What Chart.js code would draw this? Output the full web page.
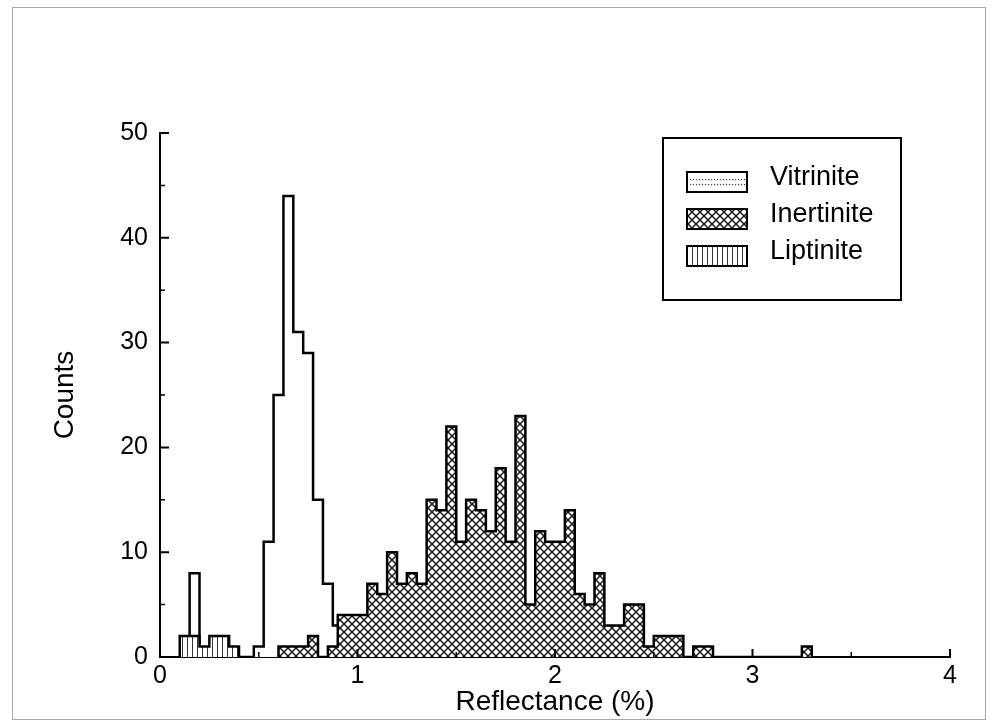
<!DOCTYPE html>
<html>
<head>
<meta charset="utf-8">
<title>Reflectance histogram</title>
<script src="https://cdn.jsdelivr.net/npm/chart.js@4.4.0/dist/chart.umd.min.js"></script>
<style>
  html, body { margin: 0; padding: 0; background: #fff; }
  canvas { display: block; }
</style>
</head>
<body>
<canvas id="myChart" width="995" height="724"></canvas>
<script>
// histogram bins: left edge of each bin, bin width 0.05 %
const binWidth = 0.05;

const vitriniteBins = [0.15, 0.475, 0.525, 0.575, 0.625, 0.675, 0.725, 0.775, 0.825, 0.875];
const vitriniteCounts = [8, 1, 11, 25, 44, 31, 29, 15, 7, 3];

const inertiniteBins = [0.60, 0.65, 0.70, 0.75, 0.80, 0.85, 0.90, 0.95, 1.00, 1.05,
    1.10, 1.15, 1.20, 1.25, 1.30, 1.35, 1.40, 1.45, 1.50, 1.55,
    1.60, 1.65, 1.70, 1.75, 1.80, 1.85, 1.90, 1.95, 2.00, 2.05,
    2.10, 2.15, 2.20, 2.25, 2.30, 2.35, 2.40, 2.45, 2.50, 2.55,
    2.60, 2.65, 2.70, 2.75, 3.25];
const inertiniteCounts = [1, 1, 1, 2, 0, 1, 4, 4, 4, 7,
    6, 10, 7, 8, 7, 15, 14, 22, 11, 15,
    14, 12, 18, 11, 23, 5, 12, 11, 11, 14,
    6, 5, 8, 3, 3, 5, 5, 1, 2, 2,
    2, 0, 1, 1, 1];

const liptiniteBins = [0.10, 0.15, 0.20, 0.25, 0.30, 0.35];
const liptiniteCounts = [2, 2, 1, 2, 2, 1];

const xTicks = [0, 1, 2, 3, 4];
const xMinorTicks = [0.5, 1.5, 2.5, 3.5];
const yTicks = [0, 10, 20, 30, 40, 50];
const yMinorTicks = [5, 15, 25, 35, 45];

const FONT = "'Liberation Sans', Arial, Helvetica, sans-serif";

// turns bins into a closed step outline for a stepped line
function stepPoints(bins, counts) {
    const pts = [];
    bins.forEach((x0, i) => {
        const prevEnd = i > 0 ? bins[i - 1] + binWidth : null;
        if (prevEnd === null || Math.abs(prevEnd - x0) > 1e-6) {
            if (prevEnd !== null) pts.push({ x: prevEnd, y: 0 });
            pts.push({ x: x0, y: 0 });
        }
        pts.push({ x: x0, y: counts[i] });
    });
    pts.push({ x: bins[bins.length - 1] + binWidth, y: 0 });
    return pts;
}

function makePattern(w, h, draw) {
    const c = document.createElement('canvas');
    c.width = w;
    c.height = h;
    const g = c.getContext('2d');
    g.fillStyle = '#fff';
    g.fillRect(0, 0, w, h);
    draw(g, w, h);
    return g.createPattern(c, 'repeat');
}

const crossHatch = makePattern(8, 8, (g, w, h) => {
    g.strokeStyle = '#1a1a1a';
    g.lineWidth = 1.5;
    g.beginPath();
    g.moveTo(-1, -1); g.lineTo(w + 1, h + 1);
    g.moveTo(w + 1, -1); g.lineTo(-1, h + 1);
    g.stroke();
});

const vLines = makePattern(5, 5, (g, w, h) => {
    g.strokeStyle = '#333';
    g.lineWidth = 1;
    g.beginPath();
    g.moveTo(2.5, 0); g.lineTo(2.5, h);
    g.stroke();
});

const frame = {
    id: 'frame',
    beforeDraw(chart) {
        const { ctx } = chart;
        ctx.save();
        ctx.fillStyle = '#fff';
        ctx.fillRect(0, 0, chart.width, chart.height);
        ctx.strokeStyle = '#a8a8a8';
        ctx.lineWidth = 1;
        ctx.strokeRect(12.5, 7.5, 973, 712);
        ctx.restore();
    }
};

// inward tick marks, major and minor
const inwardTicks = {
    id: 'inwardTicks',
    afterDraw(chart) {
        const { ctx, chartArea, scales } = chart;
        ctx.save();
        ctx.strokeStyle = '#000';
        const mark = (values, len, width) => {
            ctx.lineWidth = width;
            ctx.beginPath();
            values.forEach(v => {
                const px = scales.x.getPixelForValue(v);
                ctx.moveTo(px, chartArea.bottom);
                ctx.lineTo(px, chartArea.bottom - len);
            });
            ctx.stroke();
        };
        const markY = (values, len, width) => {
            ctx.lineWidth = width;
            ctx.beginPath();
            values.forEach(v => {
                const py = scales.y.getPixelForValue(v);
                ctx.moveTo(chartArea.left, py);
                ctx.lineTo(chartArea.left + len, py);
            });
            ctx.stroke();
        };
        mark(xTicks, 8, 2);
        mark(xMinorTicks, 5, 1.5);
        markY(yTicks, 9, 2);
        markY(yMinorTicks, 5, 1.5);
        ctx.restore();
    }
};

// boxed legend, top right of the plot
const boxLegend = {
    id: 'boxLegend',
    afterDraw(chart) {
        const { ctx, chartArea } = chart;
        const bx = chartArea.right - 287, by = chartArea.top + 5;
        const bw = 238, bh = 162;
        ctx.save();
        ctx.fillStyle = '#fff';
        ctx.fillRect(bx, by, bw, bh);
        ctx.strokeStyle = '#000';
        ctx.lineWidth = 2;
        ctx.strokeRect(bx, by, bw, bh);

        chart.data.datasets.forEach((ds, i) => {
            const sx = bx + 24, sy = by + 34 + i * 37, sw = 60, sh = 20;
            ctx.fillStyle = ds.backgroundColor;
            ctx.fillRect(sx, sy, sw, sh);
            if (ds.label === 'Vitrinite') {
                ctx.fillStyle = '#444';
                for (let dx = 3; dx < sw - 2; dx += 3) {
                    ctx.fillRect(sx + dx, sy + 7, 1.2, 1.2);
                    ctx.fillRect(sx + dx, sy + 12, 1.2, 1.2);
                }
            }
            ctx.lineWidth = 2;
            ctx.strokeStyle = '#000';
            ctx.strokeRect(sx, sy, sw, sh);

            ctx.fillStyle = '#000';
            ctx.font = '27px ' + FONT;
            ctx.textBaseline = 'middle';
            ctx.textAlign = 'left';
            ctx.fillText(ds.label, bx + 107, sy + 6);
        });
        ctx.restore();
    }
};

const ctx = document.getElementById('myChart').getContext('2d');

new Chart(ctx, {
    type: 'line',
    data: {
        datasets: [
            {
                label: 'Vitrinite',
                data: stepPoints(vitriniteBins, vitriniteCounts),
                backgroundColor: '#fff',
                borderColor: '#000',
                borderWidth: 2.5,
                stepped: true,
                fill: 'origin',
                pointRadius: 0,
                order: 3
            },
            {
                label: 'Inertinite',
                data: stepPoints(inertiniteBins, inertiniteCounts),
                backgroundColor: crossHatch,
                borderColor: '#000',
                borderWidth: 2.5,
                stepped: true,
                fill: 'origin',
                pointRadius: 0,
                order: 2
            },
            {
                label: 'Liptinite',
                data: stepPoints(liptiniteBins, liptiniteCounts),
                backgroundColor: vLines,
                borderColor: '#000',
                borderWidth: 2.5,
                stepped: true,
                fill: 'origin',
                pointRadius: 0,
                order: 1
            }
        ]
    },
    options: {
        responsive: false,
        animation: false,
        layout: { padding: { left: 0, top: 133, right: 45, bottom: 0 } },
        plugins: {
            legend: { display: false },
            tooltip: { enabled: false }
        },
        scales: {
            x: {
                type: 'linear',
                min: 0,
                max: 4,
                afterBuildTicks: s => { s.ticks = xTicks.map(v => ({ value: v })); },
                afterFit: s => { s.height = 67; },
                ticks: {
                    color: '#000',
                    padding: 4,
                    font: { family: FONT, size: 25 }
                },
                grid: { display: false, drawTicks: false },
                border: { display: true, color: '#000', width: 2 },
                title: {
                    display: true,
                    text: 'Reflectance (%)',
                    color: '#000',
                    font: { family: FONT, size: 28 },
                    padding: { top: 0, bottom: 5 }
                }
            },
            y: {
                min: 0,
                max: 50,
                afterBuildTicks: s => { s.ticks = yTicks.map(v => ({ value: v })); },
                afterFit: s => { s.width = 160; },
                ticks: {
                    color: '#000',
                    padding: 12,
                    font: { family: FONT, size: 25 }
                },
                grid: { display: false, drawTicks: false },
                border: { display: true, color: '#000', width: 2 },
                title: {
                    display: true,
                    text: 'Counts',
                    color: '#000',
                    font: { family: FONT, size: 28 },
                    padding: { top: 48, bottom: 0 }
                }
            }
        }
    },
    plugins: [frame, inwardTicks, boxLegend]
});
</script>
</body>
</html>
